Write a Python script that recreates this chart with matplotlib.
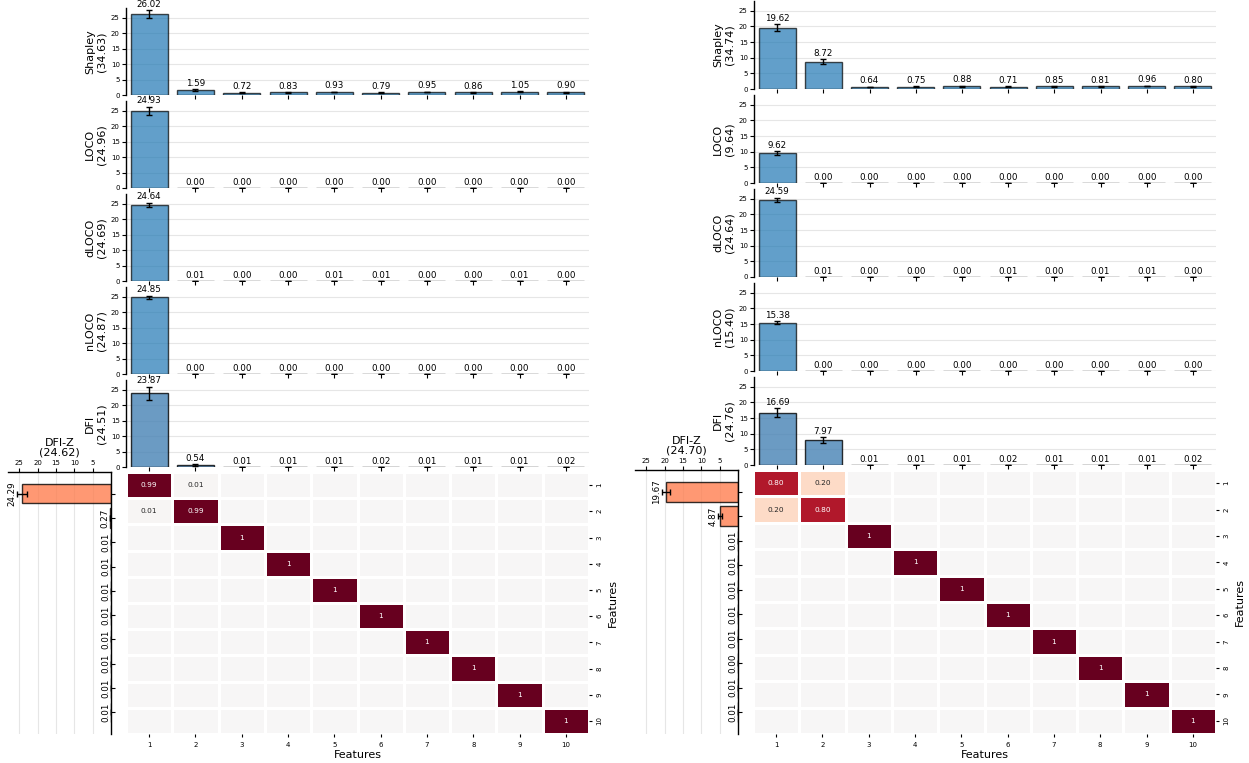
import matplotlib
matplotlib.use('Agg')
import matplotlib.pyplot as plt
import numpy as np
import seaborn as sns

plt.rcParams['font.family'] = ['DejaVu Sans']

features = [str(i) for i in range(1, 11)]
methods = ['Shapley', 'LOCO', 'dLOCO', 'nLOCO', 'DFI']

# ---------------- Setting A (left) ----------------
shap_A = [26.02, 1.59, 0.72, 0.83, 0.93, 0.79, 0.95, 0.86, 1.05, 0.90]
shap_A_err = [1.3, 0.2, 0.12, 0.12, 0.12, 0.12, 0.12, 0.12, 0.12, 0.12]
loco_A = [24.93, 0.00, 0.00, 0.00, 0.00, 0.00, 0.00, 0.00, 0.00, 0.00]
loco_A_err = [1.35, 0, 0, 0, 0, 0, 0, 0, 0, 0]
dloco_A = [24.64, 0.01, 0.00, 0.00, 0.01, 0.01, 0.00, 0.00, 0.01, 0.00]
dloco_A_err = [0.6, 0, 0, 0, 0, 0, 0, 0, 0, 0]
nloco_A = [24.85, 0.00, 0.00, 0.00, 0.00, 0.00, 0.00, 0.00, 0.00, 0.00]
nloco_A_err = [0.5, 0, 0, 0, 0, 0, 0, 0, 0, 0]
dfi_A = [23.87, 0.54, 0.01, 0.01, 0.01, 0.02, 0.01, 0.01, 0.01, 0.02]
dfi_A_err = [2.1, 0.3, 0.01, 0.01, 0.01, 0.01, 0.01, 0.01, 0.01, 0.01]
dfiz_A = [24.29, 0.27, 0.01, 0.01, 0.01, 0.01, 0.01, 0.01, 0.01, 0.01]
dfiz_A_err = [1.3, 0.1, 0.01, 0.01, 0.01, 0.01, 0.01, 0.01, 0.01, 0.01]
totals_A = [34.63, 24.96, 24.69, 24.87, 24.51]
total_dfiz_A = 24.62
block_A = [[0.99, 0.01], [0.01, 0.99]]

# ---------------- Setting B (right) ----------------
shap_B = [19.62, 8.72, 0.64, 0.75, 0.88, 0.71, 0.85, 0.81, 0.96, 0.80]
shap_B_err = [1.07, 0.75, 0.12, 0.12, 0.12, 0.12, 0.12, 0.12, 0.12, 0.12]
loco_B = [9.62, 0.00, 0.00, 0.00, 0.00, 0.00, 0.00, 0.00, 0.00, 0.00]
loco_B_err = [0.6, 0, 0, 0, 0, 0, 0, 0, 0, 0]
dloco_B = [24.59, 0.01, 0.00, 0.00, 0.00, 0.01, 0.00, 0.01, 0.01, 0.00]
dloco_B_err = [0.7, 0, 0, 0, 0, 0, 0, 0, 0, 0]
nloco_B = [15.38, 0.00, 0.00, 0.00, 0.00, 0.00, 0.00, 0.00, 0.00, 0.00]
nloco_B_err = [0.5, 0, 0, 0, 0, 0, 0, 0, 0, 0]
dfi_B = [16.69, 7.97, 0.01, 0.01, 0.01, 0.02, 0.01, 0.01, 0.01, 0.02]
dfi_B_err = [1.4, 1.0, 0.01, 0.01, 0.01, 0.01, 0.01, 0.01, 0.01, 0.01]
dfiz_B = [19.67, 4.87, 0.01, 0.01, 0.01, 0.01, 0.01, 0.00, 0.01, 0.01]
dfiz_B_err = [1.1, 0.5, 0.01, 0.01, 0.01, 0.01, 0.01, 0.01, 0.01, 0.01]
totals_B = [34.74, 9.64, 24.64, 15.40, 24.76]
total_dfiz_B = 24.70
block_B = [[0.80, 0.20], [0.20, 0.80]]

YMAX = 28.1

W, H = 1249, 763
fig = plt.figure(figsize=(W / 100, H / 100), dpi=100)


def add_ax(x, y, w, h):
    return fig.add_axes([x / W, 1 - (y + h) / H, w / W, h / H])


def corr_from_block(block):
    m = np.eye(10)
    b = np.array(block)
    m[:2, :2] = b
    return m


def fmt_cell(v):
    if v == 0:
        return ''
    if v == 1:
        return '1'
    return f'{v:.2f}'


def draw_side(cfg):
    vals_list = cfg['vals']
    errs_list = cfg['errs']
    x = np.arange(10)
    for i, (name, vals, errs, tot) in enumerate(zip(methods, vals_list, errs_list, cfg['totals'])):
        ax = add_ax(cfg['bar_x'], cfg['bar_tops'][i], cfg['bar_w'], cfg['bar_h'])
        if name == 'DFI':
            color, alpha = 'steelblue', 0.8
        else:
            color, alpha = 'tab:blue', 0.7
        bars = ax.bar(x, vals, width=0.8, color=color, alpha=alpha, edgecolor='black',
                      linewidth=1, yerr=errs, capsize=2,
                      error_kw=dict(ecolor='black', elinewidth=1, capthick=1))
        ax.set_xlim(-0.5, 9.5)
        ax.set_ylim(0, YMAX)
        ax.bar_label(bars, fmt='%.2f', fontsize=6.3, padding=1)
        ax.set_yticks([0, 5, 10, 15, 20, 25])
        ax.set_xticks(x)
        ax.set_xticklabels([])
        ax.tick_params(axis='y', labelsize=5, length=3, width=0.8, pad=1.5)
        ax.tick_params(axis='x', length=3, width=0.8)
        ax.grid(axis='y', color='#e6e6e6', linewidth=0.8)
        ax.set_axisbelow(True)
        for s in ['top', 'right', 'bottom']:
            ax.spines[s].set_visible(False)
        ax.spines['left'].set_color('black')
        ax.spines['left'].set_linewidth(1)
        ax.set_ylabel(f'{name}\n({tot:.2f})', fontsize=8, labelpad=3)

    # DFI-Z horizontal bar panel
    axz = add_ax(*cfg['z'])
    y = np.arange(10)
    axz.barh(y, cfg['dfiz'], height=0.8, color='coral', alpha=0.8, edgecolor='black',
             linewidth=1, xerr=cfg['dfiz_err'], capsize=2,
             error_kw=dict(ecolor='black', elinewidth=1, capthick=1))
    axz.set_xlim(YMAX, 0)
    axz.invert_yaxis()
    for yi, v, e in zip(y, cfg['dfiz'], cfg['dfiz_err']):
        axz.annotate(f'{v:.2f}', xy=(v + e, yi), xytext=(-0.5, 0), textcoords='offset points',
                     rotation=90, ha='right', va='center', fontsize=6.3)
    axz.xaxis.tick_top()
    axz.set_xticks([25, 20, 15, 10, 5])
    axz.tick_params(axis='x', labelsize=5, length=3, width=0.8, pad=1.5)
    axz.yaxis.tick_right()
    axz.set_yticks(y)
    axz.set_yticklabels([])
    axz.tick_params(axis='y', length=3, width=0.8)
    axz.grid(axis='x', color='#e6e6e6', linewidth=0.8)
    axz.set_axisbelow(True)
    for s in ['left', 'bottom']:
        axz.spines[s].set_visible(False)
    for s in ['top', 'right']:
        axz.spines[s].set_color('black')
        axz.spines[s].set_linewidth(1)
    axz.set_title(f'DFI-Z\n({cfg["dfiz_total"]:.2f})', fontsize=8, pad=3, linespacing=1.0)

    # Heatmap
    axh = add_ax(*cfg['hm'])
    corr = corr_from_block(cfg['block'])
    annot = np.array([[fmt_cell(v) for v in row] for row in corr])
    sns.heatmap(corr, ax=axh, cmap='RdBu_r', vmin=-1, vmax=1, annot=annot, fmt='',
                annot_kws={'fontsize': 5.3}, linewidths=1, linecolor='white', cbar=False,
                xticklabels=features, yticklabels=features)
    axh.yaxis.tick_right()
    axh.yaxis.set_label_position('right')
    axh.set_yticklabels(features, rotation=90, va='center')
    axh.set_xticklabels(features, rotation=0)
    axh.tick_params(axis='both', labelsize=5, length=2, width=0.8)
    axh.set_xlabel('Features', fontsize=8, labelpad=2)
    axh.set_ylabel('Features', fontsize=8, labelpad=4)


cfg_A = dict(
    vals=[shap_A, loco_A, dloco_A, nloco_A, dfi_A],
    errs=[shap_A_err, loco_A_err, dloco_A_err, nloco_A_err, dfi_A_err],
    totals=totals_A, dfiz=dfiz_A, dfiz_err=dfiz_A_err, dfiz_total=total_dfiz_A,
    block=block_A,
    bar_x=126, bar_w=463, bar_tops=[8, 101, 194, 287, 380], bar_h=87,
    hm=(126, 472, 463, 262), z=(8, 472, 103, 262),
)
cfg_B = dict(
    vals=[shap_B, loco_B, dloco_B, nloco_B, dfi_B],
    errs=[shap_B_err, loco_B_err, dloco_B_err, nloco_B_err, dfi_B_err],
    totals=totals_B, dfiz=dfiz_B, dfiz_err=dfiz_B_err, dfiz_total=total_dfiz_B,
    block=block_B,
    bar_x=754, bar_w=462, bar_tops=[1, 95, 189, 283, 377], bar_h=88,
    hm=(753, 470, 463, 264), z=(635, 470, 103, 264),
)

draw_side(cfg_A)
draw_side(cfg_B)

fig.savefig('out.png', dpi=100)
